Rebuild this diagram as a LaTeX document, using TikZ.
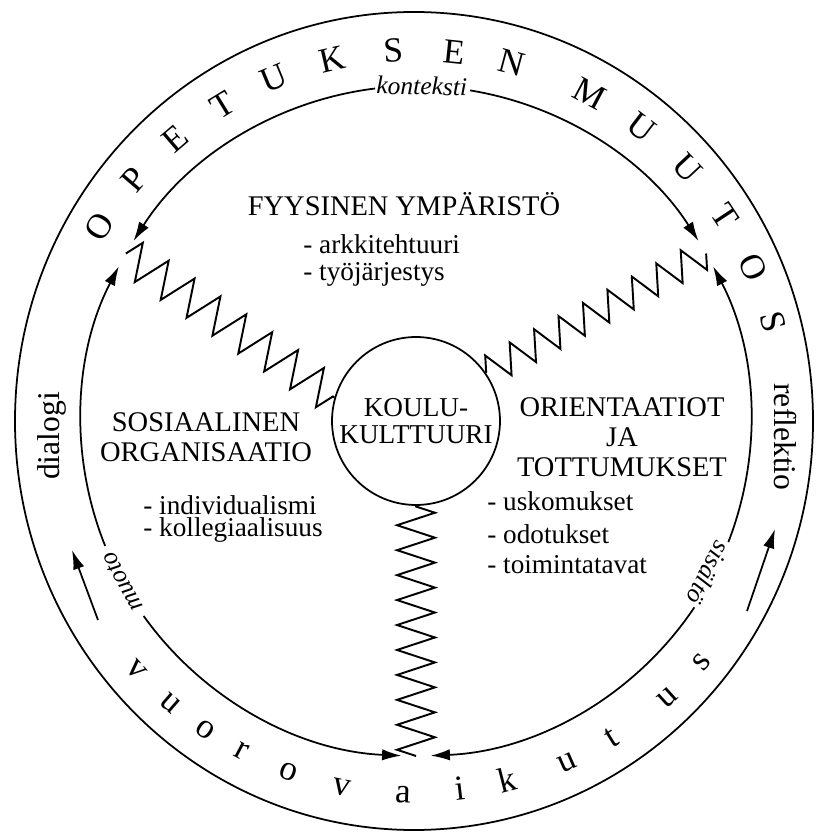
\documentclass[tikz,border=0pt]{standalone}
\usepackage{fontspec}
\setmainfont{Liberation Serif}
\usepackage{tikz}
\usetikzlibrary{arrows.meta,decorations.pathmorphing}

\begin{document}
\begin{tikzpicture}[x=0.02cm, y=0.02cm,
    ring/.style={line width=1pt},
    ringarrow/.style={line width=1pt, -{Latex[length=11pt,width=6.5pt]}},
    spring/.style 2 args={line width=1.1pt, decorate,
      decoration={zigzag, segment length=#1, amplitude=#2}},
    bigletter/.style={font=\fontsize{20}{24}\selectfont, inner sep=0pt, anchor=base},
    ringlabel/.style={font=\fontsize{14.5}{17}\selectfont\itshape, inner sep=0pt},
    heading/.style={font=\fontsize{16.2}{17}\selectfont, align=center, inner sep=0pt},
    listitem/.style={font=\fontsize{15.5}{17}\selectfont, anchor=base west, inner sep=0pt},
    sidelabel/.style={font=\fontsize{18}{20}\selectfont, inner sep=0pt}]
  \useasboundingbox (-416,-413) rectangle (404,421);

  % outer band with its two spaced words
  \draw[ring] (-2,0) ellipse [x radius=399, y radius=409];
  \foreach \ch/\ang [count=\i, evaluate=\ang as \rot using \ang-90] in
    {O/148.5, P/139.5, E/130.5, T/121.5, U/112.5, K/103, S/93.5, E/84, N/75,
     M/62, U/52.5, U/43, T/33.5, O/24.5, S/15.5}
    \node[bigletter, rotate=\rot] (up\i) at (\ang:359.5) {\ch};
  \foreach \ch/\ang [count=\i, evaluate=\ang as \rot using \ang+90] in
    {v/221.7, u/228.9, o/235.7, r/242.1, o/250, v/258.6, a/268, i/276.8,
     k/284.3, u/293.9, t/301.7, u/312.2, s/319.9}
    \node[bigletter, rotate=\rot] (lo\i) at (\ang:382) {\ch};
  \node[sidelabel, rotate=90] (dia) at (-364,-15) {dialogi};
  \node[sidelabel, rotate=-90] (ref) at (369,-16) {reflektio};
  \coordinate (la) at (-318,-199);
  \coordinate (lb) at (-344,-129);
  \coordinate (ra) at (331,-190);
  \coordinate (rb) at (359,-108);
  \draw[ringarrow] (la) -- (lb);
  \draw[ringarrow] (ra) -- (rb);

  % inner ring: three arcs, each broken by its label
  \coordinate (jl) at (150:335);
  \coordinate (jr) at (30:335);
  \coordinate (jb) at (270:335);
  \node[ringlabel, rotate=-1] (kon) at (89:335) {konteksti};
  \node[ringlabel, rotate=118.7] (muo) at (208.7:335) {muoto};
  \node[ringlabel, rotate=242.5] (sis) at (332.5:330) {sisältö};
  \draw[ringarrow] (97:335) arc[start angle=97, end angle=147.5, radius=335];
  \draw[ringarrow] (80.7:335) arc[start angle=80.7, end angle=32.5, radius=335];
  \draw[ringarrow] (201.9:335) arc[start angle=201.9, end angle=152.5, radius=335];
  \draw[ringarrow] (215.6:335) arc[start angle=215.6, end angle=267.5, radius=335];
  \draw[ringarrow] (326.2:335) arc[start angle=326.2, end angle=272.5, radius=335];
  \draw[ringarrow] (338.8:335) arc[start angle=338.8, end angle=387.5, radius=335];

  % centre and springs
  \node[draw, circle, line width=1pt, minimum size=3.36cm, inner sep=0pt, align=center,
    font=\fontsize{15.5}{15.3}\selectfont] (kk) at (0,0) {KOULU-\\KULTTUURI};
  \draw[spring={17.9pt}{10.5pt}] (jl) -- (kk.164);
  \draw[spring={15.8pt}{8.5pt}] (jr) -- (kk.35);
  \draw[spring={14.2pt}{10.8pt}] (jb) -- (kk.south);

  % the three fields
  \node[heading, anchor=base] (fys) at (-12,205.5) {FYYSINEN YMPÄRISTÖ};
  \node[listitem] (fys1) at (-113,167) {- arkkitehtuuri};
  \node[listitem] (fys2) at (-113,140) {- työjärjestys};
  \node[heading] (sos) at (-210,-16) {SOSIAALINEN\\ORGANISAATIO};
  \node[listitem] (sos1) at (-273,-93) {- individualismi};
  \node[listitem] (sos2) at (-273,-115) {- kollegiaalisuus};
  \node[heading] (ori) at (206,-16) {ORIENTAATIOT\\JA\\TOTTUMUKSET};
  \node[listitem] (ori1) at (71,-90) {- uskomukset};
  \node[listitem] (ori2) at (71,-122) {- odotukset};
  \node[listitem] (ori3) at (71,-152) {- toimintatavat};
\end{tikzpicture}
\end{document}
